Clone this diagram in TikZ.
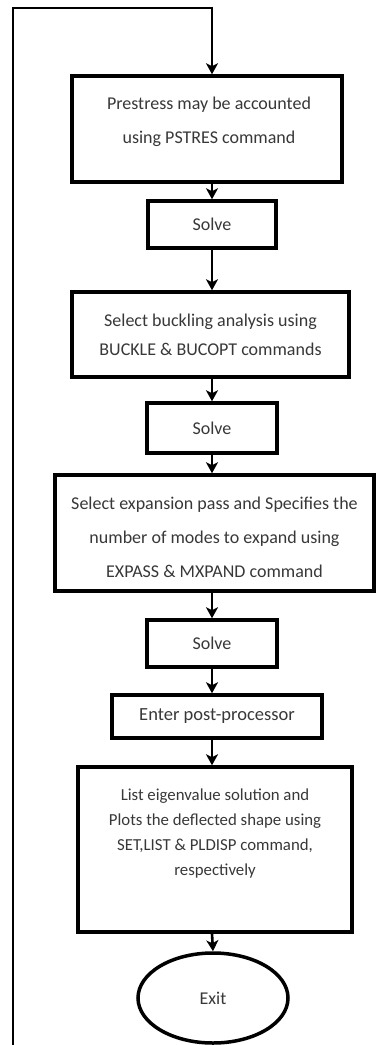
\documentclass[tikz,border=0pt]{standalone}
\usepackage{fontspec}
\setmainfont{Carlito}
\usetikzlibrary{arrows.meta,shapes.geometric,calc}
\begin{document}
\begin{tikzpicture}[x=1pt,y=-1pt,
  box/.style={draw=black,line width=3.5pt,fill=white,inner sep=0pt},
  txt/.style={align=center,inner sep=0pt,font=\fontsize{18}{30}\selectfont,text=black!78},
  arr/.style={line width=2.6pt,-{Stealth[length=11pt,width=12pt,inset=3pt]}},
  loopline/.style={line width=2.8pt}]
\useasboundingbox (0,0) rectangle (377,1045);
\node[box,minimum width=270pt,minimum height=106pt] (b1) at (207,129) {};
\node[txt,font=\fontsize{18}{34}\selectfont] (t1) at (209,122)
  {Prestress may be accounted\\using PSTRES command};
\node[box,minimum width=128pt,minimum height=47pt] (b2) at (212,224.5) {};
\node[txt] (t2) at (b2) {Solve};
\node[box,minimum width=277pt,minimum height=85pt] (b3) at (210.5,334.5) {};
\node[txt,font=\fontsize{18}{29}\selectfont] (t3) at (b3)
  {Select buckling analysis using\\BUCKLE \& BUCOPT commands};
\node[box,minimum width=130pt,minimum height=50pt] (b4) at (212,428) {};
\node[txt] (t4) at (b4) {Solve};
\node[box,minimum width=319pt,minimum height=116pt] (b5) at (214.5,533) {};
\node[txt,font=\fontsize{18}{34}\selectfont] (t5) at (214.5,537)
  {Select expansion pass and Specifies the\\number of modes to expand using\\EXPASS \& MXPAND command};
\node[box,minimum width=130pt,minimum height=47pt] (b6) at (212,643.5) {};
\node[txt] (t6) at (b6) {Solve};
\node[box,minimum width=210pt,minimum height=43pt] (b7) at (217,716.5) {};
\node[txt,font=\fontsize{18.5}{30}\selectfont] (t7) at (b7) {Enter post-processor};
\node[box,minimum width=274pt,minimum height=165pt] (b8) at (215,849.5) {};
\node[txt,font=\fontsize{16.8}{25}\selectfont] (t8) at (215,834)
  {List eigenvalue solution and\\Plots the deflected shape using\\SET,LIST \& PLDISP command,\\respectively};
\node[box,ellipse,minimum width=150pt,minimum height=90pt] (ex) at (213,998) {};
\node[txt] (t9) at (ex) {Exit};
\coordinate (tl) at (13,8);
\coordinate (bl) at (13,1045);
\coordinate (c1) at (212,129);
\draw[loopline] (bl) -- (tl) -- (tl -| c1);
\draw[arr] ($(tl -| c1)+(0,-1.4)$) -- (c1 |- b1.north);
\draw[arr] (b2.north |- b1.south) -- (b2.north);
\draw[arr] (b2.south) -- (b2.south |- b3.north);
\draw[arr] (b4.north |- b3.south) -- (b4.north);
\draw[arr] (b4.south) -- (b4.south |- b5.north);
\draw[arr] (b6.north |- b5.south) -- (b6.north);
\draw[arr] (b6.south) -- (b6.south |- b7.north);
\draw[arr] (b6.south |- b7.south) -- (b6.south |- b8.north);
\draw[arr] (b6.south |- b8.south) -- (ex.north);
\end{tikzpicture}
\end{document}
